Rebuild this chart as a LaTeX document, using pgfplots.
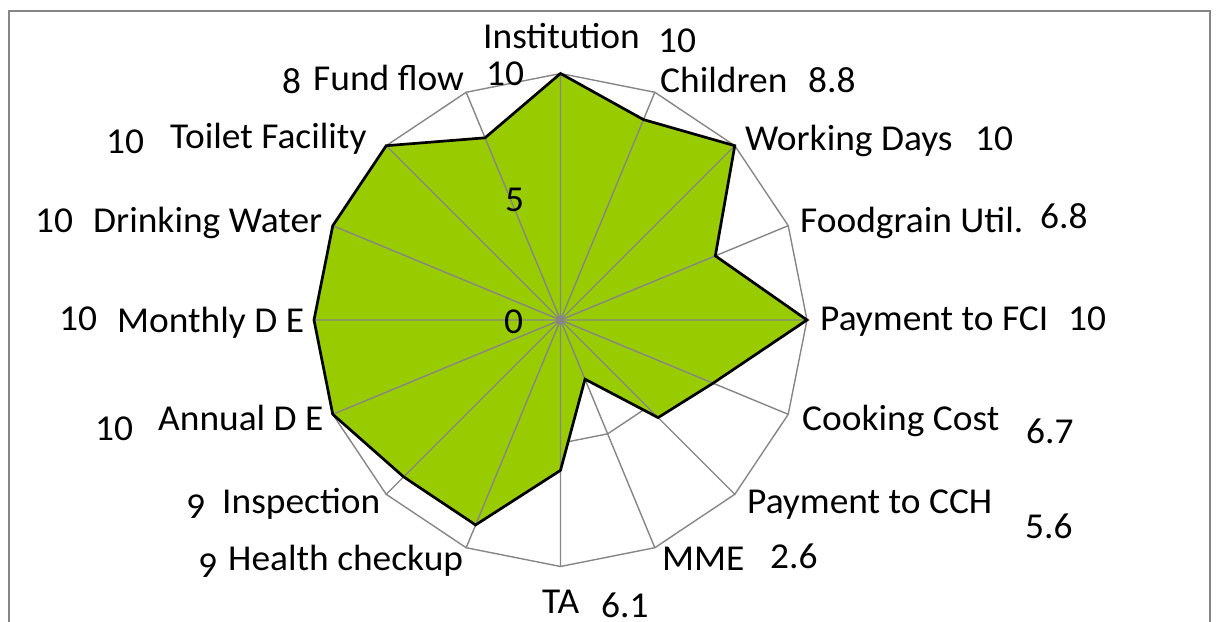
\documentclass[border=0pt]{standalone}
\usepackage{pgfplots}
\pgfplotsset{compat=1.18}
\usepackage{fontspec}
\setmainfont{Carlito}
\definecolor{radargreen}{RGB}{153,204,0}
\definecolor{gridgray}{RGB}{134,134,134}
\begin{document}
\begin{tikzpicture}
\useasboundingbox (0,0) rectangle (1220bp,-622bp);
\begin{axis}[at={(0,0)}, anchor=north west, scale only axis,
  width=1220bp, height=622bp,
  xmin=-22.738, xmax=26.755, ymin=-12.252, ymax=12.982,
  hide axis, clip=false]
% outer ring (10)
\addplot[gridgray, line width=1.4bp, data cs=polar, line join=miter] coordinates {
(90,10) (67.5,10) (45,10) (22.5,10) (0,10) (-22.5,10) (-45,10) (-67.5,10)
(-90,10) (-112.5,10) (-135,10) (-157.5,10) (180,10) (157.5,10) (135,10) (112.5,10)} -- cycle;
% inner ring (5)
\addplot[gridgray, line width=1.4bp, data cs=polar, line join=miter] coordinates {
(90,5) (67.5,5) (45,5) (22.5,5) (0,5) (-22.5,5) (-45,5) (-67.5,5)
(-90,5) (-112.5,5) (-135,5) (-157.5,5) (180,5) (157.5,5) (135,5) (112.5,5)} -- cycle;
% data fill
\addplot[fill=radargreen, draw=none, data cs=polar] coordinates {
(90,10) (67.5,8.8) (45,10) (22.5,6.8) (0,10) (-22.5,6.7) (-45,5.6) (-67.5,2.6)
(-90,6.1) (-112.5,9) (-135,9) (-157.5,10) (180,10) (157.5,10) (135,10) (112.5,8)} -- cycle;
% spokes
\addplot[gridgray, line width=1.4bp, data cs=polar, line join=round] coordinates {
(90,0) (90,10) (67.5,0) (67.5,10) (45,0) (45,10) (22.5,0) (22.5,10)
(0,0) (0,10) (-22.5,0) (-22.5,10) (-45,0) (-45,10) (-67.5,0) (-67.5,10)
(-90,0) (-90,10) (-112.5,0) (-112.5,10) (-135,0) (-135,10) (-157.5,0) (-157.5,10)
(180,0) (180,10) (157.5,0) (157.5,10) (135,0) (135,10) (112.5,0) (112.5,10) (112.5,0)};
% data outline
\addplot[black, line width=2.7bp, data cs=polar, line join=miter] coordinates {
(90,10) (67.5,8.8) (45,10) (22.5,6.8) (0,10) (-22.5,6.7) (-45,5.6) (-67.5,2.6)
(-90,6.1) (-112.5,9) (-135,9) (-157.5,10) (180,10) (157.5,10) (135,10) (112.5,8)} -- cycle;
\end{axis}
\begin{scope}[x=1bp,y=-1bp, every node/.style={inner sep=0pt, anchor=base west, xscale=1.025, transform shape, font=\fontsize{36.5bp}{43bp}\selectfont}]
\draw[gridgray, line width=1.4bp] (9,660) -- (9,11) -- (1210,11) -- (1210,660);
\node at (483,48) {Institution}; \node at (658,52) {10};
\node at (660,92) {Children}; \node at (808,92) {8.8};
\node at (745,150) {Working Days}; \node at (975,150) {10};
\node at (800,232) {Foodgrain Util.}; \node at (1040,228) {6.8};
\node at (820,330) {Payment to FCI}; \node at (1068,330) {10};
\node at (802,430) {Cooking Cost}; \node at (1026,443) {6.7};
\node at (747,513) {Payment to CCH}; \node at (1025,538) {5.6};
\node at (662,570) {MME}; \node at (770,568) {2.6};
\node at (542,613) {TA}; \node at (601,617) {6.1};
\node at (228,570) {Health checkup}; \node at (198,577) {9};
\node at (222,513) {Inspection}; \node at (186,518) {9};
\node at (158,430) {Annual D E}; \node at (95,440) {10};
\node at (117,332) {Monthly D E}; \node at (59,330) {10};
\node at (93,232) {Drinking Water}; \node at (35,232) {10};
\node at (170,148) {Toilet Facility}; \node at (106,153) {10};
\node at (313,90) {Fund flow}; \node at (282,93) {8};
\node at (486,85) {10};
\node at (505,211) {5};
\node at (504,333) {0};
\end{scope}
\end{tikzpicture}
\end{document}
